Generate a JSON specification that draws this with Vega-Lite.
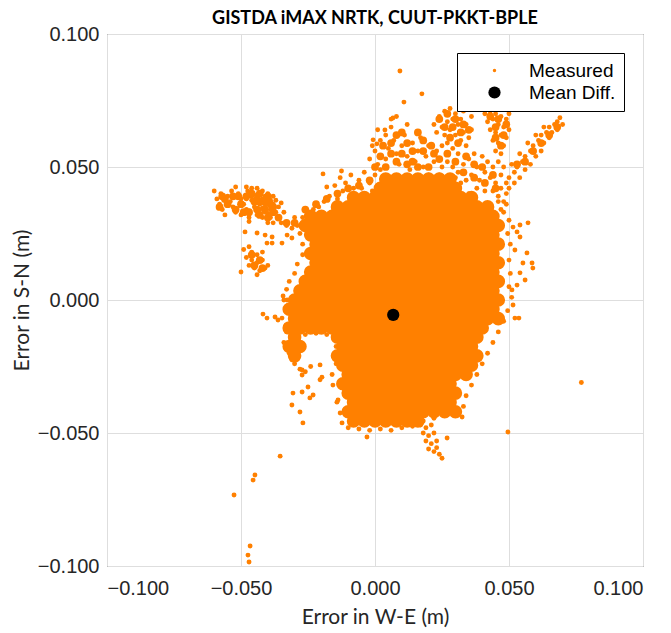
{
"$schema": "https://vega.github.io/schema/vega-lite/v6.json",
"width": 536, "height": 532,
"autosize": {"type": "none"},
"padding": {"left": 107, "top": 34, "right": 28, "bottom": 67},
"background": "white",
"title": {"text": "GISTDA iMAX NRTK, CUUT-PKKT-BPLE", "font": "Lato", "fontSize": 18, "fontWeight": "bold", "color": "#000000", "anchor": "middle", "offset": -4},
"config": {
  "view": {"stroke": "#333333", "strokeWidth": 1},
  "axis": {"grid": true, "gridColor": "#dedede", "gridWidth": 1, "domain": false, "ticks": false, "labelFont": "Liberation Sans", "labelFontSize": 20, "labelColor": "#262626", "titleFont": "Lato", "titleFontSize": 21, "titleFontWeight": "normal", "titleColor": "#262626"}
},
"datasets": {
"core": [
{"x":0.004,"y":0.0455},{"x":0.008,"y":0.0455},{"x":0.012,"y":0.0455},{"x":0.016,"y":0.0455},{"x":0.02,"y":0.0455},{"x":0.024,"y":0.0455},{"x":0.028,"y":0.0455},
{"x":0.002,"y":0.042},{"x":0.006,"y":0.042},{"x":0.01,"y":0.042},{"x":0.014,"y":0.042},{"x":0.018,"y":0.042},{"x":0.022,"y":0.042},{"x":0.026,"y":0.042},{"x":0.03,"y":0.042},
{"x":-0.008,"y":0.0385},{"x":-0.004,"y":0.0385},{"x":0,"y":0.0385},{"x":0.004,"y":0.0385},{"x":0.008,"y":0.0385},{"x":0.012,"y":0.0385},{"x":0.016,"y":0.0385},{"x":0.02,"y":0.0385},{"x":0.024,"y":0.0385},{"x":0.028,"y":0.0385},{"x":0.032,"y":0.0385},{"x":0.036,"y":0.0385},
{"x":-0.014,"y":0.035},{"x":-0.01,"y":0.035},{"x":-0.006,"y":0.035},{"x":-0.002,"y":0.035},{"x":0.002,"y":0.035},{"x":0.006,"y":0.035},{"x":0.01,"y":0.035},{"x":0.014,"y":0.035},{"x":0.018,"y":0.035},{"x":0.022,"y":0.035},{"x":0.026,"y":0.035},{"x":0.03,"y":0.035},{"x":0.034,"y":0.035},{"x":0.038,"y":0.035},{"x":0.042,"y":0.035},
{"x":-0.024,"y":0.0315},{"x":-0.02,"y":0.0315},{"x":-0.016,"y":0.0315},{"x":-0.012,"y":0.0315},{"x":-0.008,"y":0.0315},{"x":-0.004,"y":0.0315},{"x":0,"y":0.0315},{"x":0.004,"y":0.0315},{"x":0.008,"y":0.0315},{"x":0.012,"y":0.0315},{"x":0.016,"y":0.0315},{"x":0.02,"y":0.0315},{"x":0.024,"y":0.0315},{"x":0.028,"y":0.0315},{"x":0.032,"y":0.0315},{"x":0.036,"y":0.0315},{"x":0.04,"y":0.0315},{"x":0.044,"y":0.0315},
{"x":-0.026,"y":0.028},{"x":-0.022,"y":0.028},{"x":-0.018,"y":0.028},{"x":-0.014,"y":0.028},{"x":-0.01,"y":0.028},{"x":-0.006,"y":0.028},{"x":-0.002,"y":0.028},{"x":0.002,"y":0.028},{"x":0.006,"y":0.028},{"x":0.01,"y":0.028},{"x":0.014,"y":0.028},{"x":0.018,"y":0.028},{"x":0.022,"y":0.028},{"x":0.026,"y":0.028},{"x":0.03,"y":0.028},{"x":0.034,"y":0.028},{"x":0.038,"y":0.028},{"x":0.042,"y":0.028},{"x":0.046,"y":0.028},
{"x":-0.024,"y":0.0245},{"x":-0.02,"y":0.0245},{"x":-0.016,"y":0.0245},{"x":-0.012,"y":0.0245},{"x":-0.008,"y":0.0245},{"x":-0.004,"y":0.0245},{"x":0,"y":0.0245},{"x":0.004,"y":0.0245},{"x":0.008,"y":0.0245},{"x":0.012,"y":0.0245},{"x":0.016,"y":0.0245},{"x":0.02,"y":0.0245},{"x":0.024,"y":0.0245},{"x":0.028,"y":0.0245},{"x":0.032,"y":0.0245},{"x":0.036,"y":0.0245},{"x":0.04,"y":0.0245},{"x":0.044,"y":0.0245},
{"x":-0.022,"y":0.021},{"x":-0.018,"y":0.021},{"x":-0.014,"y":0.021},{"x":-0.01,"y":0.021},{"x":-0.006,"y":0.021},{"x":-0.002,"y":0.021},{"x":0.002,"y":0.021},{"x":0.006,"y":0.021},{"x":0.01,"y":0.021},{"x":0.014,"y":0.021},{"x":0.018,"y":0.021},{"x":0.022,"y":0.021},{"x":0.026,"y":0.021},{"x":0.03,"y":0.021},{"x":0.034,"y":0.021},{"x":0.038,"y":0.021},{"x":0.042,"y":0.021},{"x":0.046,"y":0.021},
{"x":-0.024,"y":0.0175},{"x":-0.02,"y":0.0175},{"x":-0.016,"y":0.0175},{"x":-0.012,"y":0.0175},{"x":-0.008,"y":0.0175},{"x":-0.004,"y":0.0175},{"x":0,"y":0.0175},{"x":0.004,"y":0.0175},{"x":0.008,"y":0.0175},{"x":0.012,"y":0.0175},{"x":0.016,"y":0.0175},{"x":0.02,"y":0.0175},{"x":0.024,"y":0.0175},{"x":0.028,"y":0.0175},{"x":0.032,"y":0.0175},{"x":0.036,"y":0.0175},{"x":0.04,"y":0.0175},{"x":0.044,"y":0.0175},
{"x":-0.022,"y":0.014},{"x":-0.018,"y":0.014},{"x":-0.014,"y":0.014},{"x":-0.01,"y":0.014},{"x":-0.006,"y":0.014},{"x":-0.002,"y":0.014},{"x":0.002,"y":0.014},{"x":0.006,"y":0.014},{"x":0.01,"y":0.014},{"x":0.014,"y":0.014},{"x":0.018,"y":0.014},{"x":0.022,"y":0.014},{"x":0.026,"y":0.014},{"x":0.03,"y":0.014},{"x":0.034,"y":0.014},{"x":0.038,"y":0.014},{"x":0.042,"y":0.014},{"x":0.046,"y":0.014},
{"x":-0.024,"y":0.0105},{"x":-0.02,"y":0.0105},{"x":-0.016,"y":0.0105},{"x":-0.012,"y":0.0105},{"x":-0.008,"y":0.0105},{"x":-0.004,"y":0.0105},{"x":0,"y":0.0105},{"x":0.004,"y":0.0105},{"x":0.008,"y":0.0105},{"x":0.012,"y":0.0105},{"x":0.016,"y":0.0105},{"x":0.02,"y":0.0105},{"x":0.024,"y":0.0105},{"x":0.028,"y":0.0105},{"x":0.032,"y":0.0105},{"x":0.036,"y":0.0105},{"x":0.04,"y":0.0105},{"x":0.044,"y":0.0105},
{"x":-0.026,"y":0.007},{"x":-0.022,"y":0.007},{"x":-0.018,"y":0.007},{"x":-0.014,"y":0.007},{"x":-0.01,"y":0.007},{"x":-0.006,"y":0.007},{"x":-0.002,"y":0.007},{"x":0.002,"y":0.007},{"x":0.006,"y":0.007},{"x":0.01,"y":0.007},{"x":0.014,"y":0.007},{"x":0.018,"y":0.007},{"x":0.022,"y":0.007},{"x":0.026,"y":0.007},{"x":0.03,"y":0.007},{"x":0.034,"y":0.007},{"x":0.038,"y":0.007},{"x":0.042,"y":0.007},{"x":0.046,"y":0.007},
{"x":-0.028,"y":0.0035},{"x":-0.024,"y":0.0035},{"x":-0.02,"y":0.0035},{"x":-0.016,"y":0.0035},{"x":-0.012,"y":0.0035},{"x":-0.008,"y":0.0035},{"x":-0.004,"y":0.0035},{"x":0,"y":0.0035},{"x":0.004,"y":0.0035},{"x":0.008,"y":0.0035},{"x":0.012,"y":0.0035},{"x":0.016,"y":0.0035},{"x":0.02,"y":0.0035},{"x":0.024,"y":0.0035},{"x":0.028,"y":0.0035},{"x":0.032,"y":0.0035},{"x":0.036,"y":0.0035},{"x":0.04,"y":0.0035},{"x":0.044,"y":0.0035},
{"x":-0.03,"y":0},{"x":-0.026,"y":0},{"x":-0.022,"y":0},{"x":-0.018,"y":0},{"x":-0.014,"y":0},{"x":-0.01,"y":0},{"x":-0.006,"y":0},{"x":-0.002,"y":0},{"x":0.002,"y":0},{"x":0.006,"y":0},{"x":0.01,"y":0},{"x":0.014,"y":0},{"x":0.018,"y":0},{"x":0.022,"y":0},{"x":0.026,"y":0},{"x":0.03,"y":0},{"x":0.034,"y":0},{"x":0.038,"y":0},{"x":0.042,"y":0},{"x":0.046,"y":0},
{"x":-0.032,"y":-0.0035},{"x":-0.028,"y":-0.0035},{"x":-0.024,"y":-0.0035},{"x":-0.02,"y":-0.0035},{"x":-0.016,"y":-0.0035},{"x":-0.012,"y":-0.0035},{"x":-0.008,"y":-0.0035},{"x":-0.004,"y":-0.0035},{"x":0,"y":-0.0035},{"x":0.004,"y":-0.0035},{"x":0.008,"y":-0.0035},{"x":0.012,"y":-0.0035},{"x":0.016,"y":-0.0035},{"x":0.02,"y":-0.0035},{"x":0.024,"y":-0.0035},{"x":0.028,"y":-0.0035},{"x":0.032,"y":-0.0035},{"x":0.036,"y":-0.0035},{"x":0.04,"y":-0.0035},{"x":0.044,"y":-0.0035},
{"x":-0.03,"y":-0.007},{"x":-0.026,"y":-0.007},{"x":-0.022,"y":-0.007},{"x":-0.018,"y":-0.007},{"x":-0.014,"y":-0.007},{"x":-0.01,"y":-0.007},{"x":-0.006,"y":-0.007},{"x":-0.002,"y":-0.007},{"x":0.002,"y":-0.007},{"x":0.006,"y":-0.007},{"x":0.01,"y":-0.007},{"x":0.014,"y":-0.007},{"x":0.018,"y":-0.007},{"x":0.022,"y":-0.007},{"x":0.026,"y":-0.007},{"x":0.03,"y":-0.007},{"x":0.034,"y":-0.007},{"x":0.038,"y":-0.007},{"x":0.042,"y":-0.007},{"x":0.046,"y":-0.007},
{"x":-0.032,"y":-0.0105},{"x":-0.028,"y":-0.0105},{"x":-0.024,"y":-0.0105},{"x":-0.02,"y":-0.0105},{"x":-0.016,"y":-0.0105},{"x":-0.012,"y":-0.0105},{"x":-0.008,"y":-0.0105},{"x":-0.004,"y":-0.0105},{"x":0,"y":-0.0105},{"x":0.004,"y":-0.0105},{"x":0.008,"y":-0.0105},{"x":0.012,"y":-0.0105},{"x":0.016,"y":-0.0105},{"x":0.02,"y":-0.0105},{"x":0.024,"y":-0.0105},{"x":0.028,"y":-0.0105},{"x":0.032,"y":-0.0105},{"x":0.036,"y":-0.0105},{"x":0.04,"y":-0.0105},
{"x":-0.03,"y":-0.014},{"x":-0.014,"y":-0.014},{"x":-0.01,"y":-0.014},{"x":-0.006,"y":-0.014},{"x":-0.002,"y":-0.014},{"x":0.002,"y":-0.014},{"x":0.006,"y":-0.014},{"x":0.01,"y":-0.014},{"x":0.014,"y":-0.014},{"x":0.018,"y":-0.014},{"x":0.022,"y":-0.014},{"x":0.026,"y":-0.014},{"x":0.03,"y":-0.014},{"x":0.034,"y":-0.014},{"x":0.038,"y":-0.014},
{"x":-0.032,"y":-0.0175},{"x":-0.028,"y":-0.0175},{"x":-0.012,"y":-0.0175},{"x":-0.008,"y":-0.0175},{"x":-0.004,"y":-0.0175},{"x":0,"y":-0.0175},{"x":0.004,"y":-0.0175},{"x":0.008,"y":-0.0175},{"x":0.012,"y":-0.0175},{"x":0.016,"y":-0.0175},{"x":0.02,"y":-0.0175},{"x":0.024,"y":-0.0175},{"x":0.028,"y":-0.0175},{"x":0.032,"y":-0.0175},{"x":0.036,"y":-0.0175},
{"x":-0.03,"y":-0.021},{"x":-0.014,"y":-0.021},{"x":-0.01,"y":-0.021},{"x":-0.006,"y":-0.021},{"x":-0.002,"y":-0.021},{"x":0.002,"y":-0.021},{"x":0.006,"y":-0.021},{"x":0.01,"y":-0.021},{"x":0.014,"y":-0.021},{"x":0.018,"y":-0.021},{"x":0.022,"y":-0.021},{"x":0.026,"y":-0.021},{"x":0.03,"y":-0.021},{"x":0.034,"y":-0.021},{"x":0.038,"y":-0.021},
{"x":-0.012,"y":-0.0245},{"x":-0.008,"y":-0.0245},{"x":-0.004,"y":-0.0245},{"x":0,"y":-0.0245},{"x":0.004,"y":-0.0245},{"x":0.008,"y":-0.0245},{"x":0.012,"y":-0.0245},{"x":0.016,"y":-0.0245},{"x":0.02,"y":-0.0245},{"x":0.024,"y":-0.0245},{"x":0.028,"y":-0.0245},{"x":0.032,"y":-0.0245},{"x":0.036,"y":-0.0245},
{"x":-0.01,"y":-0.028},{"x":-0.006,"y":-0.028},{"x":-0.002,"y":-0.028},{"x":0.002,"y":-0.028},{"x":0.006,"y":-0.028},{"x":0.01,"y":-0.028},{"x":0.014,"y":-0.028},{"x":0.018,"y":-0.028},{"x":0.022,"y":-0.028},{"x":0.026,"y":-0.028},{"x":0.03,"y":-0.028},{"x":0.034,"y":-0.028},
{"x":-0.012,"y":-0.0315},{"x":-0.008,"y":-0.0315},{"x":-0.004,"y":-0.0315},{"x":0,"y":-0.0315},{"x":0.004,"y":-0.0315},{"x":0.008,"y":-0.0315},{"x":0.012,"y":-0.0315},{"x":0.016,"y":-0.0315},{"x":0.02,"y":-0.0315},{"x":0.024,"y":-0.0315},{"x":0.028,"y":-0.0315},
{"x":-0.01,"y":-0.035},{"x":-0.006,"y":-0.035},{"x":-0.002,"y":-0.035},{"x":0.002,"y":-0.035},{"x":0.006,"y":-0.035},{"x":0.01,"y":-0.035},{"x":0.014,"y":-0.035},{"x":0.018,"y":-0.035},{"x":0.022,"y":-0.035},{"x":0.026,"y":-0.035},{"x":0.03,"y":-0.035},
{"x":-0.008,"y":-0.0385},{"x":-0.004,"y":-0.0385},{"x":0,"y":-0.0385},{"x":0.004,"y":-0.0385},{"x":0.008,"y":-0.0385},{"x":0.012,"y":-0.0385},{"x":0.016,"y":-0.0385},{"x":0.02,"y":-0.0385},{"x":0.024,"y":-0.0385},{"x":0.028,"y":-0.0385},
{"x":-0.01,"y":-0.042},{"x":-0.006,"y":-0.042},{"x":-0.002,"y":-0.042},{"x":0.002,"y":-0.042},{"x":0.006,"y":-0.042},{"x":0.01,"y":-0.042},{"x":0.014,"y":-0.042},{"x":0.018,"y":-0.042},{"x":0.022,"y":-0.042},{"x":0.026,"y":-0.042},{"x":0.03,"y":-0.042},
{"x":-0.008,"y":-0.0455},{"x":-0.004,"y":-0.0455},{"x":0,"y":-0.0455},{"x":0.004,"y":-0.0455},{"x":0.008,"y":-0.0455},{"x":0.012,"y":-0.0455},{"x":0.016,"y":-0.0455}
],
"blobs": [
{"x":-0.046,"y":0.04},{"x":-0.043,"y":0.04},{"x":-0.04,"y":0.039},{"x":-0.045,"y":0.037},{"x":-0.042,"y":0.037},{"x":-0.039,"y":0.036},{"x":-0.044,"y":0.034},{"x":-0.041,"y":0.034},{"x":-0.038,"y":0.033},{"x":-0.056,"y":0.038},{"x":-0.058,"y":0.035},{"x":-0.053,"y":0.039},{"x":-0.05,"y":0.036},{"x":-0.048,"y":0.039},{"x":-0.047,"y":0.033},{"x":-0.036,"y":0.031},{"x":-0.033,"y":0.029},
{"x":-0.044,"y":0.038},{"x":-0.041,"y":0.037},{"x":-0.038,"y":0.035},{"x":-0.043,"y":0.032},{"x":-0.04,"y":0.031},{"x":-0.051,"y":0.039},{"x":-0.055,"y":0.036},{"x":-0.052,"y":0.034},{"x":-0.057,"y":0.039},{"x":-0.049,"y":0.033},
{"x":-0.046,"y":0.017},{"x":-0.043,"y":0.015},{"x":-0.045,"y":0.013},{"x":-0.042,"y":0.012},
{"x":0.024,"y":0.068},{"x":0.027,"y":0.07},{"x":0.03,"y":0.068},{"x":0.033,"y":0.066},{"x":0.026,"y":0.065},{"x":0.029,"y":0.065},{"x":0.032,"y":0.063},{"x":0.028,"y":0.061},{"x":0.031,"y":0.059},{"x":0.035,"y":0.064},
{"x":0.043,"y":0.069},{"x":0.046,"y":0.068},{"x":0.049,"y":0.066},{"x":0.045,"y":0.065},{"x":0.048,"y":0.062},{"x":0.045,"y":0.061},{"x":0.047,"y":0.058},
{"x":0.053,"y":0.051},{"x":0.056,"y":0.052},{"x":0.059,"y":0.056},{"x":0.062,"y":0.059},{"x":0.065,"y":0.062},{"x":0.068,"y":0.065},
{"x":0,"y":0.05},{"x":0.004,"y":0.05},{"x":0.008,"y":0.052},{"x":0.012,"y":0.051},{"x":0.016,"y":0.05},{"x":0.02,"y":0.05},{"x":0.006,"y":0.055},{"x":0.01,"y":0.055},{"x":0.014,"y":0.056},{"x":0.018,"y":0.056},{"x":0.022,"y":0.055},{"x":0.003,"y":0.058},{"x":0.008,"y":0.062},{"x":0.012,"y":0.059},{"x":0.016,"y":0.063},
{"x":0.002,"y":0.054},{"x":0.006,"y":0.059},{"x":0.01,"y":0.063},{"x":0.014,"y":0.052},{"x":0.018,"y":0.06},{"x":0.021,"y":0.058},{"x":0.024,"y":0.053},{"x":0.027,"y":0.055},{"x":0.03,"y":0.052},{"x":0.034,"y":0.054},{"x":0.037,"y":0.051},
{"x":0.033,"y":0.048},{"x":0.037,"y":0.046},{"x":0.041,"y":0.044},{"x":0.045,"y":0.042},{"x":0.04,"y":0.05},{"x":0.044,"y":0.047},
{"x":-0.03,"y":0.029},{"x":-0.026,"y":0.034},{"x":-0.022,"y":0.036},{"x":-0.018,"y":0.038},{"x":-0.014,"y":0.04},{"x":-0.01,"y":0.042},{"x":-0.006,"y":0.043},{"x":-0.002,"y":0.045}
],
"pts": [
{"x":-0.06,"y":0.041},{"x":-0.059,"y":0.038},{"x":-0.058,"y":0.036},{"x":-0.057,"y":0.034},{"x":-0.056,"y":0.032},{"x":-0.0575,"y":0.04},{"x":-0.055,"y":0.039},{"x":-0.054,"y":0.037},{"x":-0.053,"y":0.035},{"x":-0.052,"y":0.033},{"x":-0.0535,"y":0.041},{"x":-0.051,"y":0.04},{"x":-0.05,"y":0.038},{"x":-0.049,"y":0.036},{"x":-0.048,"y":0.034},{"x":-0.05,"y":0.032},{"x":-0.047,"y":0.031},{"x":-0.0475,"y":0.041},{"x":-0.046,"y":0.042},{"x":-0.044,"y":0.042},{"x":-0.042,"y":0.041},{"x":-0.04,"y":0.04},{"x":-0.046,"y":0.039},{"x":-0.044,"y":0.0395},{"x":-0.042,"y":0.038},{"x":-0.04,"y":0.037},{"x":-0.038,"y":0.036},{"x":-0.045,"y":0.037},{"x":-0.043,"y":0.036},{"x":-0.041,"y":0.035},{"x":-0.039,"y":0.034},{"x":-0.037,"y":0.033},{"x":-0.045,"y":0.035},{"x":-0.043,"y":0.034},{"x":-0.041,"y":0.033},{"x":-0.044,"y":0.032},{"x":-0.042,"y":0.031},{"x":-0.039,"y":0.031},{"x":-0.036,"y":0.031},{"x":-0.035,"y":0.029},{"x":-0.033,"y":0.028},{"x":-0.031,"y":0.027},{"x":-0.038,"y":0.029},{"x":-0.04,"y":0.029},{"x":-0.047,"y":0.0295},{"x":-0.038,"y":0.039},{"x":-0.036,"y":0.035},{"x":-0.034,"y":0.033},{"x":-0.048,"y":0.0425},{"x":-0.052,"y":0.0425},
{"x":-0.046,"y":0.0375},{"x":-0.044,"y":0.0365},{"x":-0.042,"y":0.0345},{"x":-0.04,"y":0.0325},{"x":-0.038,"y":0.0325},{"x":-0.047,"y":0.0335},{"x":-0.043,"y":0.0405},{"x":-0.041,"y":0.039},{"x":-0.039,"y":0.0375},{"x":-0.048,"y":0.038},{"x":-0.037,"y":0.0375},{"x":-0.035,"y":0.0365},
{"x":-0.049,"y":0.019},{"x":-0.047,"y":0.02},{"x":-0.046,"y":0.018},{"x":-0.044,"y":0.017},{"x":-0.048,"y":0.016},{"x":-0.046,"y":0.015},{"x":-0.044,"y":0.014},{"x":-0.042,"y":0.015},{"x":-0.045,"y":0.012},{"x":-0.043,"y":0.011},{"x":-0.041,"y":0.012},{"x":-0.047,"y":0.013},{"x":-0.042,"y":0.018},{"x":-0.04,"y":0.013},{"x":-0.044,"y":0.0095},{"x":-0.05,"y":0.0105},
{"x":-0.0485,"y":0.0256},{"x":-0.044,"y":0.0252},{"x":-0.041,"y":0.0244},{"x":-0.0384,"y":0.0237},{"x":-0.0403,"y":0.0214},{"x":-0.0384,"y":0.0214},{"x":-0.0347,"y":0.0214},{"x":-0.0328,"y":0.0244},{"x":-0.031,"y":0.0233},
{"x":-0.0418,"y":-0.0053},{"x":-0.0403,"y":-0.0068},{"x":-0.0373,"y":-0.0064},{"x":-0.0362,"y":-0.0075},{"x":-0.0347,"y":-0.0068},{"x":-0.0343,"y":0.0015},{"x":-0.0328,"y":0},
{"x":-0.033,"y":-0.012},{"x":-0.034,"y":-0.016},{"x":-0.032,"y":-0.02},{"x":-0.03,"y":-0.024},{"x":-0.028,"y":-0.026},{"x":-0.031,"y":-0.0225},{"x":-0.026,"y":-0.027},{"x":-0.024,"y":-0.025},
{"x":-0.033,"y":0.004},{"x":-0.034,"y":0},{"x":-0.032,"y":0.007},{"x":-0.03,"y":0.01},{"x":-0.029,"y":0.0135},{"x":-0.027,"y":0.017},{"x":-0.027,"y":0.021},{"x":-0.028,"y":0.025},{"x":-0.029,"y":0.028},{"x":-0.03,"y":0.031},
{"x":-0.0306,"y":-0.035},{"x":-0.0272,"y":-0.0346},{"x":-0.025,"y":-0.0327},{"x":-0.0243,"y":-0.0368},{"x":-0.0231,"y":-0.0357},{"x":-0.031,"y":-0.0395},{"x":-0.028,"y":-0.0421},{"x":-0.0269,"y":-0.0462},{"x":-0.0272,"y":-0.0282},{"x":-0.0272,"y":-0.0263},{"x":-0.0205,"y":-0.0244},{"x":-0.0142,"y":-0.0384},{"x":-0.003,"y":-0.0515},{"x":-0.0354,"y":-0.0587},{"x":-0.0448,"y":-0.0658},{"x":0.0269,"y":-0.0519},
{"x":-0.0455,"y":-0.0677},{"x":-0.0526,"y":-0.0733},{"x":-0.0466,"y":-0.0925},{"x":-0.0474,"y":-0.0959},{"x":-0.047,"y":-0.0985},
{"x":-0.0205,"y":-0.03},{"x":-0.0198,"y":-0.029},{"x":-0.0157,"y":-0.032},{"x":-0.0138,"y":-0.0376},{"x":-0.013,"y":-0.0425},{"x":-0.0123,"y":-0.0462},
{"x":-0.0145,"y":-0.0175},{"x":-0.0145,"y":-0.024},{"x":-0.016,"y":-0.028},{"x":-0.026,"y":-0.013},{"x":-0.022,"y":-0.0125},{"x":-0.018,"y":-0.013},
{"x":-0.01,"y":-0.048},{"x":-0.006,"y":-0.0485},{"x":-0.002,"y":-0.049},{"x":0.002,"y":-0.0485},{"x":0.006,"y":-0.049},{"x":0.01,"y":-0.048},{"x":0.014,"y":-0.0475},
{"x":0.017,"y":-0.047},{"x":0.019,"y":-0.048},{"x":0.021,"y":-0.047},{"x":0.018,"y":-0.05},{"x":0.02,"y":-0.051},{"x":0.022,"y":-0.05},{"x":0.019,"y":-0.053},{"x":0.021,"y":-0.054},{"x":0.023,"y":-0.053},{"x":0.02,"y":-0.056},{"x":0.022,"y":-0.057},{"x":0.024,"y":-0.058},{"x":0.025,"y":-0.0595},{"x":0.023,"y":-0.0555},{"x":0.018,"y":-0.0455},{"x":0.022,"y":-0.0445},
{"x":0.0541,"y":0.0282},{"x":0.0571,"y":0.029},{"x":0.0515,"y":0.0274},{"x":0.053,"y":0.0256},{"x":0.0541,"y":0.0237},{"x":0.0522,"y":0.0188},{"x":0.0567,"y":0.0177},{"x":0.0586,"y":0.0139},{"x":0.0589,"y":0.012},{"x":0.0552,"y":0.0139},{"x":0.0541,"y":0.0102},{"x":0.056,"y":0.0075},{"x":0.053,"y":0.0056},{"x":0.0511,"y":0.0038},{"x":0.0515,"y":-0.0019},{"x":0.0522,"y":-0.0068},{"x":0.0537,"y":-0.0068},
{"x":0.05,"y":0.03},{"x":0.0495,"y":0.025},{"x":0.0505,"y":0.021},{"x":0.05,"y":0.015},{"x":0.0505,"y":0.01},{"x":0.05,"y":0.005},{"x":0.051,"y":0.001},{"x":0.0495,"y":-0.004},{"x":0.048,"y":-0.008},{"x":0.046,"y":-0.012},{"x":0.044,"y":-0.016},{"x":0.042,"y":-0.02},{"x":0.04,"y":-0.024},{"x":0.038,"y":-0.028},{"x":0.036,"y":-0.032},{"x":0.034,"y":-0.036},{"x":0.033,"y":-0.04},{"x":0.0325,"y":-0.044},
{"x":0.047,"y":0.034},{"x":0.049,"y":0.036},{"x":0.046,"y":0.037},{"x":0.048,"y":0.033},
{"x":-0.015,"y":0.043},{"x":-0.013,"y":0.046},{"x":-0.011,"y":0.044},{"x":-0.009,"y":0.047},{"x":-0.012,"y":0.041},{"x":-0.008,"y":0.042},{"x":-0.006,"y":0.045},{"x":-0.004,"y":0.048},{"x":-0.005,"y":0.042},{"x":-0.002,"y":0.044},{"x":0,"y":0.047},{"x":-0.001,"y":0.041},{"x":0.002,"y":0.049},{"x":-0.017,"y":0.039},{"x":-0.019,"y":0.037},{"x":-0.014,"y":0.038},{"x":-0.021,"y":0.035},{"x":-0.023,"y":0.034},{"x":-0.025,"y":0.033},{"x":-0.027,"y":0.031},{"x":-0.018,"y":0.0425},{"x":-0.0125,"y":0.0485},{"x":0.001,"y":0.051},{"x":-0.0194,"y":0.0474},
{"x":-0.002,"y":0.053},{"x":0,"y":0.056},{"x":0.002,"y":0.06},{"x":0.001,"y":0.064},{"x":-0.001,"y":0.058},{"x":0.004,"y":0.053},{"x":0.005,"y":0.057},{"x":0.004,"y":0.062},{"x":0.006,"y":0.065},{"x":0.007,"y":0.06},{"x":0.008,"y":0.055},{"x":0.009,"y":0.051},{"x":0.01,"y":0.058},{"x":0.011,"y":0.062},{"x":0.012,"y":0.066},{"x":0.012,"y":0.054},{"x":0.014,"y":0.059},{"x":0.015,"y":0.052},{"x":0.016,"y":0.056},{"x":0.017,"y":0.061},{"x":0.018,"y":0.05},{"x":0.019,"y":0.054},{"x":0.02,"y":0.058},{"x":0.022,"y":0.052},{"x":0.023,"y":0.056},{"x":0.025,"y":0.05},{"x":0.024,"y":0.047},{"x":0.02,"y":0.047},{"x":0.013,"y":0.049},{"x":0.008,"y":0.069},{"x":0.006,"y":0.068},
{"x":0.0067,"y":0.0684},{"x":0.0037,"y":0.0639},{"x":-0.0007,"y":0.0602},{"x":0.0007,"y":0.0587},{"x":0.0093,"y":0.0861},{"x":0.0175,"y":0.0775},{"x":0.0108,"y":0.0744},
{"x":0.022,"y":0.066},{"x":0.024,"y":0.069},{"x":0.026,"y":0.071},{"x":0.028,"y":0.072},{"x":0.03,"y":0.07},{"x":0.032,"y":0.068},{"x":0.034,"y":0.066},{"x":0.036,"y":0.064},{"x":0.023,"y":0.063},{"x":0.025,"y":0.065},{"x":0.027,"y":0.067},{"x":0.029,"y":0.068},{"x":0.031,"y":0.066},{"x":0.033,"y":0.063},{"x":0.035,"y":0.061},{"x":0.026,"y":0.062},{"x":0.028,"y":0.064},{"x":0.03,"y":0.062},{"x":0.032,"y":0.06},{"x":0.034,"y":0.058},{"x":0.027,"y":0.059},{"x":0.029,"y":0.057},{"x":0.031,"y":0.055},{"x":0.025,"y":0.058},{"x":0.036,"y":0.069},{"x":0.033,"y":0.071},{"x":0.037,"y":0.072},
{"x":0.041,"y":0.07},{"x":0.043,"y":0.071},{"x":0.045,"y":0.07},{"x":0.047,"y":0.069},{"x":0.049,"y":0.068},{"x":0.042,"y":0.067},{"x":0.044,"y":0.068},{"x":0.046,"y":0.066},{"x":0.048,"y":0.065},{"x":0.05,"y":0.064},{"x":0.043,"y":0.064},{"x":0.045,"y":0.063},{"x":0.047,"y":0.062},{"x":0.049,"y":0.061},{"x":0.044,"y":0.06},{"x":0.046,"y":0.059},{"x":0.048,"y":0.058},{"x":0.045,"y":0.056},{"x":0.047,"y":0.055},{"x":0.05,"y":0.07},{"x":0.049,"y":0.0715},
{"x":0.027,"y":0.052},{"x":0.029,"y":0.05},{"x":0.031,"y":0.048},{"x":0.033,"y":0.051},{"x":0.035,"y":0.053},{"x":0.037,"y":0.055},{"x":0.038,"y":0.05},{"x":0.036,"y":0.047},{"x":0.034,"y":0.045},{"x":0.039,"y":0.045},{"x":0.041,"y":0.048},{"x":0.042,"y":0.052},{"x":0.04,"y":0.054},{"x":0.043,"y":0.046},{"x":0.044,"y":0.05},{"x":0.046,"y":0.052},{"x":0.045,"y":0.044},{"x":0.047,"y":0.047},{"x":0.048,"y":0.05},{"x":0.047,"y":0.042},{"x":0.049,"y":0.044},{"x":0.046,"y":0.039},{"x":0.048,"y":0.037},{"x":0.044,"y":0.041},{"x":0.041,"y":0.041},{"x":0.038,"y":0.042},{"x":0.035,"y":0.04},{"x":0.032,"y":0.044},{"x":0.03,"y":0.046},
{"x":0.05,"y":0.046},{"x":0.052,"y":0.048},{"x":0.053,"y":0.05},{"x":0.055,"y":0.052},{"x":0.056,"y":0.054},{"x":0.058,"y":0.056},{"x":0.059,"y":0.058},{"x":0.061,"y":0.06},{"x":0.062,"y":0.062},{"x":0.064,"y":0.063},{"x":0.065,"y":0.065},{"x":0.067,"y":0.066},{"x":0.068,"y":0.067},{"x":0.069,"y":0.0685},{"x":0.052,"y":0.044},{"x":0.054,"y":0.046},{"x":0.056,"y":0.049},{"x":0.058,"y":0.051},{"x":0.06,"y":0.054},{"x":0.062,"y":0.056},{"x":0.063,"y":0.059},{"x":0.065,"y":0.061},{"x":0.066,"y":0.063},{"x":0.068,"y":0.064},{"x":0.07,"y":0.066},{"x":0.057,"y":0.059},{"x":0.06,"y":0.062},{"x":0.063,"y":0.065},{"x":0.054,"y":0.055},{"x":0.051,"y":0.051},{"x":0.049,"y":0.04},{"x":0.05,"y":0.042},
{"x":0.077,"y":-0.031},{"x":0.0496,"y":-0.0496}
],
"mean": [{"x":0.0068,"y":-0.0056}]
},
"encoding": {
  "x": {"field": "x", "type": "quantitative", "scale": {"domain": [-0.1, 0.1], "nice": false, "zero": false}, "axis": {"values": [-0.1, -0.05, 0, 0.05, 0.1], "format": ".3f", "title": "Error in W-E (m)", "labelPadding": 12, "titlePadding": 8}},
  "y": {"field": "y", "type": "quantitative", "scale": {"domain": [-0.1, 0.1], "nice": false, "zero": false}, "axis": {"values": [-0.1, -0.05, 0, 0.05, 0.1], "format": ".3f", "title": "Error in S-N (m)", "labelPadding": 8, "titlePadding": 5}}
},
"layer": [
  {"data": {"name": "core"}, "mark": {"type": "circle", "size": 185, "opacity": 1, "color": "#FF8000"}},
  {"data": {"name": "blobs"}, "mark": {"type": "circle", "size": 60, "opacity": 1, "color": "#FF8000"}},
  {"data": {"name": "pts"}, "mark": {"type": "circle", "opacity": 1, "size": 24},
   "encoding": {"color": {"datum": "Measured", "type": "nominal",
     "scale": {"domain": ["Measured", "Mean Diff."], "range": ["#FF8000", "#000000"]},
     "legend": {"orient": "none", "legendX": 350, "legendY": 19, "title": null, "direction": "vertical", "strokeColor": "#000000", "fillColor": "#ffffff", "padding": 8, "labelFont": "Liberation Sans", "labelFontSize": 19, "labelColor": "#000000", "symbolType": "circle", "symbolStrokeWidth": 0, "symbolOpacity": 1, "rowPadding": 2, "labelOffset": 25, "symbolOffset": 20, "labelLimit": 300,
       "encode": {"symbols": {"update": {"size": {"signal": "datum.value === 'Measured' ? 12 : 150"}}}}}}}},
  {"data": {"name": "mean"}, "mark": {"type": "circle", "opacity": 1, "size": 150},
   "encoding": {"color": {"datum": "Mean Diff.", "type": "nominal"}}}
]
}
